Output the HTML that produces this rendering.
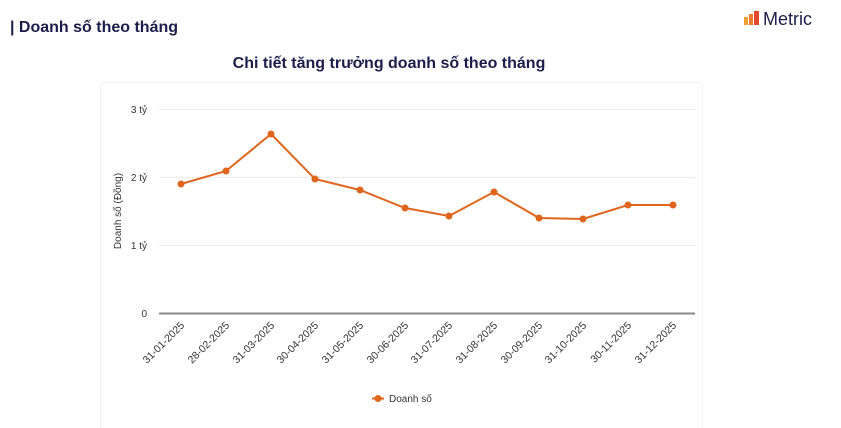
<!DOCTYPE html>
<html><head><meta charset="utf-8"><style>
body{margin:0;background:#fff;width:841px;height:428px;overflow:hidden;font-family:"Liberation Sans",sans-serif}
</style></head><body>
<svg width="841" height="428" xmlns="http://www.w3.org/2000/svg" style="position:absolute;left:0;top:0">
<text x="10" y="32" font-family="Liberation Sans, sans-serif" font-size="16" font-weight="bold" fill="#1c1d4a">| Doanh số theo tháng</text>
<g>
<rect x="744" y="17" width="4" height="8" fill="#f0a030"/>
<rect x="749" y="14" width="4" height="11" fill="#ee7a30"/>
<rect x="754" y="11" width="5" height="14" fill="#e04a2a"/>
</g>
<text x="763" y="25" font-family="Liberation Sans, sans-serif" font-size="18" fill="#1c1d4a">Metric</text>
<text x="389" y="68" text-anchor="middle" font-family="Liberation Sans, sans-serif" font-size="16" font-weight="bold" fill="#1c1d4a">Chi tiết tăng trưởng doanh số theo tháng</text>
<rect x="100.5" y="82.5" width="602" height="360" rx="4" fill="#fff" stroke="#f0f0f0"/>
<g stroke="#ebebeb" stroke-width="1">
<line x1="159" y1="109.5" x2="695" y2="109.5"/>
<line x1="159" y1="177.5" x2="695" y2="177.5"/>
<line x1="159" y1="245.5" x2="695" y2="245.5"/>
</g>
<line x1="159" y1="313.5" x2="695" y2="313.5" stroke="#888" stroke-width="2"/>
<g font-family="Liberation Sans, sans-serif" font-size="10" fill="#333" text-anchor="end">
<text x="147" y="113">3 tỷ</text>
<text x="147" y="181">2 tỷ</text>
<text x="147" y="249">1 tỷ</text>
<text x="147" y="317">0</text>
</g>
<text transform="translate(121,211) rotate(-90)" text-anchor="middle" font-family="Liberation Sans, sans-serif" font-size="10" fill="#333">Doanh số (Đồng)</text>
<polyline fill="none" stroke="#e0661e" stroke-width="2" points="181,184 226,171 271,134 315,179 360,190 405,208 449,216 494,192 539,218 583,219 628,205 673,205"/>
<g fill="#e0661e">
<circle cx="181" cy="184" r="3.5"/><circle cx="226" cy="171" r="3.5"/><circle cx="271" cy="134" r="3.5"/><circle cx="315" cy="179" r="3.5"/><circle cx="360" cy="190" r="3.5"/><circle cx="405" cy="208" r="3.5"/><circle cx="449" cy="216" r="3.5"/><circle cx="494" cy="192" r="3.5"/><circle cx="539" cy="218" r="3.5"/><circle cx="583" cy="219" r="3.5"/><circle cx="628" cy="205" r="3.5"/><circle cx="673" cy="205" r="3.5"/>
</g>
<g font-family="Liberation Sans, sans-serif" font-size="10.5" fill="#333" text-anchor="end">
<text transform="translate(185,326) rotate(-45)">31-01-2025</text>
<text transform="translate(230,326) rotate(-45)">28-02-2025</text>
<text transform="translate(275,326) rotate(-45)">31-03-2025</text>
<text transform="translate(319,326) rotate(-45)">30-04-2025</text>
<text transform="translate(364,326) rotate(-45)">31-05-2025</text>
<text transform="translate(409,326) rotate(-45)">30-06-2025</text>
<text transform="translate(453,326) rotate(-45)">31-07-2025</text>
<text transform="translate(498,326) rotate(-45)">31-08-2025</text>
<text transform="translate(543,326) rotate(-45)">30-09-2025</text>
<text transform="translate(587,326) rotate(-45)">31-10-2025</text>
<text transform="translate(632,326) rotate(-45)">30-11-2025</text>
<text transform="translate(677,326) rotate(-45)">31-12-2025</text>
</g>
<line x1="372" y1="398.5" x2="384" y2="398.5" stroke="#e0661e" stroke-width="2"/>
<circle cx="378" cy="398.5" r="3.5" fill="#e0661e"/>
<text x="389" y="402" font-family="Liberation Sans, sans-serif" font-size="10" fill="#333">Doanh số</text>
</svg>
</body></html>
